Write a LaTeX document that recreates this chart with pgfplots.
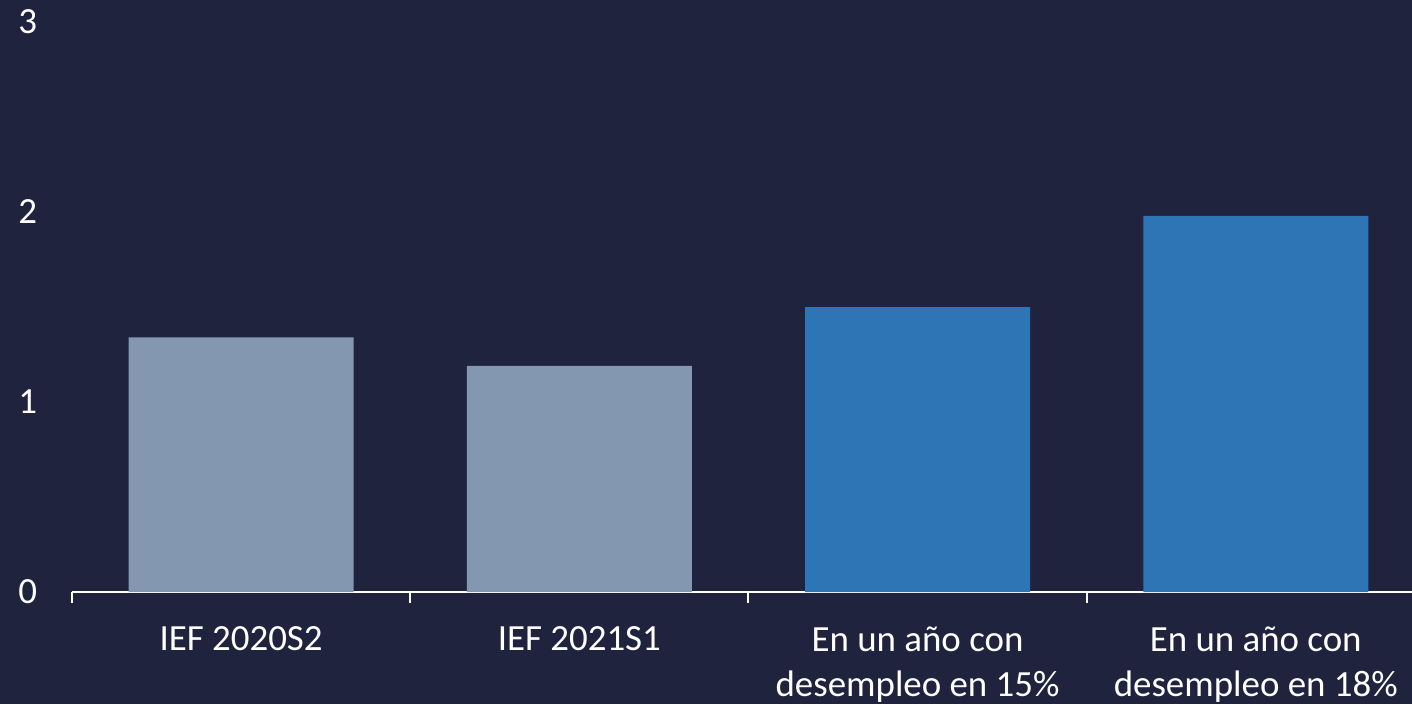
\documentclass[border=0pt]{standalone}
\usepackage{pgfplots}
\pgfplotsset{compat=1.18}
\usepackage{fontspec}
\setmainfont{Carlito}
\begin{document}
\begin{tikzpicture}
\definecolor{bgnavy}{RGB}{31,35,61}
\definecolor{bargrey}{RGB}{132,151,176}
\definecolor{barblue}{RGB}{46,117,182}
\fill[bgnavy] (-7.2mm,-11.2mm) rectangle (134mm,59.2mm);
\begin{axis}[
  at={(0,0)}, anchor=south west,
  scale only axis,
  width=134mm, height=57mm,
  xmin=-0.5, xmax=3.462,
  ymin=0, ymax=3,
  ytick={0,1,2,3},
  xtick={0,1,2,3},
  xticklabels={IEF 2020S2,IEF 2021S1,En un año con\\desempleo en 15\%,En un año con\\desempleo en 18\%},
  minor xtick={-0.5,0.5,1.5,2.5},
  axis x line*=bottom, axis y line*=left,
  x axis line style={white, line width=0.6pt, -},
  y axis line style={draw=none},
  major tick length=0pt,
  minor tick length=1.1mm,
  tick align=outside,
  minor tick style={white, line width=0.6pt},
  ytick style={draw=none},
  tick label style={font=\fontsize{10.5}{12.8}\selectfont, text=white},
  /pgf/number format/assume math mode=true,
  xticklabel style={align=center, anchor=north, yshift=-2.2mm},
  yticklabel style={anchor=west, xshift=-6.6mm},
  clip=false,
]
\addplot[ybar, bar shift=0pt, bar width=22.5mm, fill=bargrey, draw=none] coordinates {(0,1.34) (1,1.19)};
\addplot[ybar, bar shift=0pt, bar width=22.5mm, fill=barblue, draw=none] coordinates {(2,1.50) (3,1.98)};
\end{axis}
\pgfresetboundingbox
\useasboundingbox (-7.2mm,-11.2mm) rectangle (134mm,59.2mm);
\end{tikzpicture}
\end{document}
